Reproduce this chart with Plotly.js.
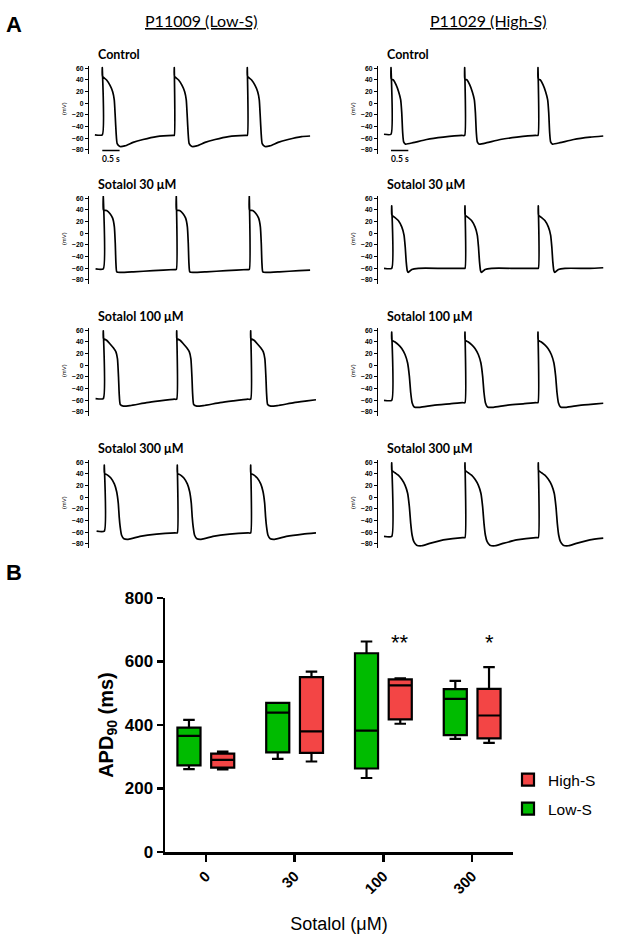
<!DOCTYPE html>
<html><head><meta charset="utf-8">
<script src="https://cdn.plot.ly/plotly-3.0.1.min.js"></script>
<style>html,body{margin:0;padding:0;background:#fff}#chart{width:617px;height:941px}</style>
</head><body><div id="chart"></div>
<script>
// ================= DATA =================
// Panel A: action potential traces (time in s from subplot y-axis, voltage in mV)
const columnTitles = ['P11009 (Low-S)', 'P11029 (High-S)'];
const conditionLabels = ['Control', 'Sotalol 30 \u03bcM', 'Sotalol 100 \u03bcM', 'Sotalol 300 \u03bcM'];
const mvTicks = [-80, -60, -40, -20, 0, 20, 40, 60];
const scaleBarSec = 0.5;

// Low-S, Control
const ctrlLow_onsets = [0.384, 2.465, 4.575];
const ctrlLow_t  = [0, 0.005, 0.125, 0.22, 0.30, 0.346, 0.375, 0.40, 0.43, 0.51, 0.65, 0.89, 1.18, 1.57, 2.05];
const ctrlLow_mv = [61, 46, 40, 31, 20, 6, -23, -51, -69, -74, -73, -67, -62, -57, -55];
const ctrlLow_start = [0.17, -54], ctrlLow_end = [6.39, -56];
// High-S, Control
const ctrlHigh_onsets = [0.376, 2.505, 4.624];
const ctrlHigh_t  = [0, 0.005, 0.067, 0.144, 0.22, 0.28, 0.31, 0.337, 0.365, 0.42, 0.64, 1.03, 1.51, 2.05];
const ctrlHigh_mv = [61, 42, 40, 32, 20, 6, -16, -50, -66, -70, -67.5, -62, -58, -55];
const ctrlHigh_start = [0.173, -53], ctrlHigh_end = [6.51, -56];
// Low-S, Sotalol 30
const s30Low_onsets = [0.413, 2.523, 4.633];
const s30Low_t  = [0, 0.005, 0.096, 0.19, 0.27, 0.32, 0.346, 0.365, 0.39, 0.48, 0.87, 1.44, 2.05];
const s30Low_mv = [63, 40, 39, 34, 26, 11, -17, -51, -66, -67, -66, -64, -62];
const s30Low_start = [0.19, -61], s30Low_end = [6.39, -63];
// High-S, Sotalol 30
const s30High_onsets = [0.396, 2.514, 4.633];
const s30High_t  = [0, 0.005, 0.096, 0.19, 0.29, 0.356, 0.39, 0.42, 0.45, 0.48, 0.58, 0.77, 1.49, 2.05];
const s30High_mv = [47, 31, 27, 22, 11, -3, -23, -49, -64, -67, -62, -60, -60, -60];
const s30High_start = [0.173, -60], s30High_end = [6.51, -59];
// Low-S, Sotalol 100
const s100Low_onsets = [0.413, 2.535, 4.673];
const s100Low_t  = [0, 0.005, 0.096, 0.19, 0.29, 0.365, 0.41, 0.44, 0.46, 0.49, 0.58, 0.77, 1.25, 1.63, 2.05];
const s100Low_mv = [59, 46, 43, 37, 30, 23, 11, -20, -49, -67, -70, -69, -64, -61, -58];
const s100Low_start = [0.19, -57], s100Low_end = [6.56, -59];
// High-S, Sotalol 100
const s100High_onsets = [0.396, 2.514, 4.624];
const s100High_t  = [0, 0.005, 0.096, 0.19, 0.29, 0.385, 0.46, 0.51, 0.55, 0.59, 0.65, 0.82, 1.2, 1.68, 2.05];
const s100High_mv = [57, 43, 40, 35.5, 29, 18.5, 4, -18.5, -47, -64, -71.5, -72, -68.5, -66, -64];
const s100High_start = [0.173, -60], s100High_end = [6.51, -65];
// Low-S, Sotalol 300
const s300Low_onsets = [0.442, 2.552, 4.673];
const s300Low_t  = [0, 0.005, 0.096, 0.19, 0.29, 0.356, 0.404, 0.43, 0.46, 0.50, 0.567, 0.69, 1.03, 1.51, 2.05];
const s300Low_mv = [55, 41, 38, 33, 23, 10, -10, -33, -51, -65, -71, -72, -67, -63, -61];
const s300Low_start = [0.22, -58], s300Low_end = [6.56, -61];
// High-S, Sotalol 300
const s300High_onsets = [0.396, 2.514, 4.633];
const s300High_t  = [0, 0.005, 0.096, 0.19, 0.29, 0.385, 0.46, 0.51, 0.55, 0.59, 0.64, 0.72, 0.87, 1.1, 1.49, 2.05];
const s300High_mv = [59, 46, 42, 38, 31, 21, 7, -16, -45, -65, -76, -82, -83, -79, -73, -69];
const s300High_start = [0.173, -67], s300High_end = [6.51, -70];

// Panel B: APD90 (ms) box statistics
const doseLabels = ['0', '30', '100', '300'];
const lowS_min = [261, 293, 233, 356];
const lowS_q1  = [273, 314, 263, 368];
const lowS_med = [366, 439, 382, 482];
const lowS_q3  = [392, 470, 626, 513];
const lowS_max = [416, 470, 663, 539];
const highS_min = [260, 285, 404, 344];
const highS_q1  = [266, 312, 418, 358];
const highS_med = [290, 380, 525, 430];
const highS_q3  = [310, 551, 544, 514];
const highS_max = [316, 568, 547, 582];
const sigMarks = ['', '', '**', '*'];
const sigLevel = 671;

// ================= BUILD =================
const W = 617, H = 941;
const fx = p => p / W, fy = p => 1 - p / H;
const traces = [], annotations = [], layout = {};

const apData = [
  {row:0,col:0,on:ctrlLow_onsets,t:ctrlLow_t,v:ctrlLow_mv,s:ctrlLow_start,e:ctrlLow_end},
  {row:0,col:1,on:ctrlHigh_onsets,t:ctrlHigh_t,v:ctrlHigh_mv,s:ctrlHigh_start,e:ctrlHigh_end},
  {row:1,col:0,on:s30Low_onsets,t:s30Low_t,v:s30Low_mv,s:s30Low_start,e:s30Low_end},
  {row:1,col:1,on:s30High_onsets,t:s30High_t,v:s30High_mv,s:s30High_start,e:s30High_end},
  {row:2,col:0,on:s100Low_onsets,t:s100Low_t,v:s100Low_mv,s:s100Low_start,e:s100Low_end},
  {row:2,col:1,on:s100High_onsets,t:s100High_t,v:s100High_mv,s:s100High_start,e:s100High_end},
  {row:3,col:0,on:s300Low_onsets,t:s300Low_t,v:s300Low_mv,s:s300Low_start,e:s300Low_end},
  {row:3,col:1,on:s300High_onsets,t:s300High_t,v:s300High_mv,s:s300High_start,e:s300High_end}
];

function buildAP(d) {
  const x = [d.s[0]], y = [d.s[1]];
  let prev = d.s[1];
  d.on.forEach((on, k) => {
    const next = k < d.on.length - 1 ? d.on[k + 1] : d.e[0];
    x.push(on); y.push(prev);
    for (let i = 0; i < d.t.length; i++) {
      const tt = on + d.t[i];
      if (tt < next - 0.01) { x.push(tt); y.push(d.v[i]); prev = d.v[i]; }
    }
  });
  x.push(d.e[0]); y.push(d.e[1]);
  return {x, y};
}

const row60 = [68.3, 198.3, 330.3, 462.3];
const colAxisPx = [89, 378];
const pxPerSec = 34.6, tMax = 6.6;
const yLo = -86, yHi = 64, pxPerMv = 81.7 / 140;
const fontA = 'Lato, "Open Sans", sans-serif';
const fontB = '"Liberation Sans", Arial, sans-serif';

apData.forEach((d, i) => {
  const n = i + 1;
  const xa = 'xaxis' + n, ya = 'yaxis' + n;
  const top = row60[d.row] - (yHi - 60) * pxPerMv;
  const bot = row60[d.row] + (60 - yLo) * pxPerMv;
  const left = colAxisPx[d.col];
  layout[xa] = {domain: [fx(left), fx(left + tMax * pxPerSec)], range: [0, tMax], visible: false, fixedrange: true, anchor: 'y' + n};
  layout[ya] = {domain: [fy(bot), fy(top)], range: [yLo, yHi], anchor: 'x' + n,
    showline: true, linecolor: '#000', linewidth: 1, ticks: 'outside', ticklen: 3, tickwidth: 1, tickcolor: '#000',
    tickvals: mvTicks, showgrid: false, zeroline: false, fixedrange: true,
    tickfont: {family: fontB, size: 6.8, weight: 700, color: '#000'}};
  const p = buildAP(d);
  traces.push({type: 'scatter', mode: 'lines', x: p.x, y: p.y, xaxis: 'x' + n, yaxis: 'y' + n,
    line: {color: '#000', width: 1.7, shape: 'spline', smoothing: 0.5}, showlegend: false, hoverinfo: 'skip'});
  annotations.push({xref: 'paper', yref: 'paper', x: fx(left + 7), y: fy(row60[d.row] - 14), xanchor: 'left', yanchor: 'middle',
    text: conditionLabels[d.row], showarrow: false, font: {family: fontA, size: 12.5, weight: 700, color: '#000'}});
  annotations.push({xref: 'paper', yref: 'paper', x: fx(left - 25), y: fy(row60[d.row] + 41), xanchor: 'center', yanchor: 'middle',
    text: '(mV)', textangle: -90, showarrow: false, font: {family: fontB, size: 6, color: '#000'}});
  if (d.row === 0) {
    traces.push({type: 'scatter', mode: 'lines', x: [d.on[0], d.on[0] + scaleBarSec], y: [-81, -81],
      xaxis: 'x' + n, yaxis: 'y' + n, line: {color: '#000', width: 1.5}, showlegend: false, hoverinfo: 'skip'});
    annotations.push({xref: 'x' + n, yref: 'paper', x: d.on[0] + scaleBarSec / 2, y: fy(158.5), xanchor: 'center', yanchor: 'middle',
      text: '0.5 s', showarrow: false, font: {family: fontA, size: 8.5, weight: 700, color: '#000'}});
  }
});

annotations.push({xref:'paper',yref:'paper',x:fx(201),y:fy(20),xanchor:'center',yanchor:'middle',text:'<u>'+columnTitles[0]+'</u>',showarrow:false,font:{family:fontA,size:16,color:'#000'}});
annotations.push({xref:'paper',yref:'paper',x:fx(488),y:fy(20),xanchor:'center',yanchor:'middle',text:'<u>'+columnTitles[1]+'</u>',showarrow:false,font:{family:fontA,size:16,color:'#000'}});
annotations.push({xref:'paper',yref:'paper',x:fx(14),y:fy(25),xanchor:'center',yanchor:'middle',text:'A',showarrow:false,font:{family:fontB,size:22,weight:700,color:'#000'}});
annotations.push({xref:'paper',yref:'paper',x:fx(14),y:fy(572),xanchor:'center',yanchor:'middle',text:'B',showarrow:false,font:{family:fontB,size:22,weight:700,color:'#000'}});

// Panel B boxes
const boxCommon = {type: 'box', x: doseLabels, xaxis: 'x9', yaxis: 'y9', boxpoints: false, whiskerwidth: 0.5,
  line: {color: '#000', width: 2.2}, hoverinfo: 'skip'};
traces.push(Object.assign({}, boxCommon, {name: 'Low-S', legendgroup: 'low', legendrank: 2, q1: lowS_q1, median: lowS_med, q3: lowS_q3,
  lowerfence: lowS_min, upperfence: lowS_max, fillcolor: '#00bb00'}));
traces.push(Object.assign({}, boxCommon, {name: 'High-S', legendgroup: 'high', legendrank: 1, q1: highS_q1, median: highS_med, q3: highS_q3,
  lowerfence: highS_min, upperfence: highS_max, fillcolor: '#f34545'}));

sigMarks.forEach((m, i) => {
  if (!m) return;
  annotations.push({xref: 'x9', yref: 'y9', x: i, y: sigLevel, xshift: 17, yshift: -4, xanchor: 'center', yanchor: 'middle',
    text: m, showarrow: false, font: {family: fontB, size: 22, color: '#000'}});
});

layout.xaxis9 = {domain: [fx(165), fx(513)], anchor: 'y9', type: 'category', range: [-0.46, 3.46],
  showline: true, linecolor: '#000', linewidth: 2.5, ticks: 'outside', ticklen: 7, tickwidth: 2.5, tickcolor: '#000',
  tickangle: -45, showgrid: false, zeroline: false, fixedrange: true,
  tickfont: {family: fontB, size: 15, weight: 700, color: '#000'},
  title: {text: 'Sotalol (\u03bcM)', font: {family: fontB, size: 18, color: '#000'}, standoff: 22}};
layout.yaxis9 = {domain: [fy(852), fy(598)], anchor: 'x9', range: [0, 800], tickvals: [0, 200, 400, 600, 800],
  showline: true, linecolor: '#000', linewidth: 2.5, ticks: 'outside', ticklen: 6, tickwidth: 2.5, tickcolor: '#000',
  showgrid: false, zeroline: false, fixedrange: true,
  tickfont: {family: fontB, size: 17, weight: 700, color: '#000'},
  title: {text: 'APD<sub>90</sub> (ms)', font: {family: fontB, size: 20, weight: 700, color: '#000'}, standoff: 6}};

Object.assign(layout, {
  width: W, height: H, margin: {l: 0, r: 0, t: 0, b: 0}, paper_bgcolor: '#fff', plot_bgcolor: 'rgba(0,0,0,0)',
  boxmode: 'group', boxgap: 0.24, boxgroupgap: 0.316,
  showlegend: true,
  legend: {x: fx(508), y: fy(763), xanchor: 'left', yanchor: 'top', traceorder: 'grouped', tracegroupgap: 6,
    font: {family: fontB, size: 15.5, color: '#000'}, bgcolor: 'rgba(0,0,0,0)'},
  annotations: annotations
});

Plotly.newPlot('chart', traces, layout, {staticPlot: true, displayModeBar: false});
</script>
</body></html>
